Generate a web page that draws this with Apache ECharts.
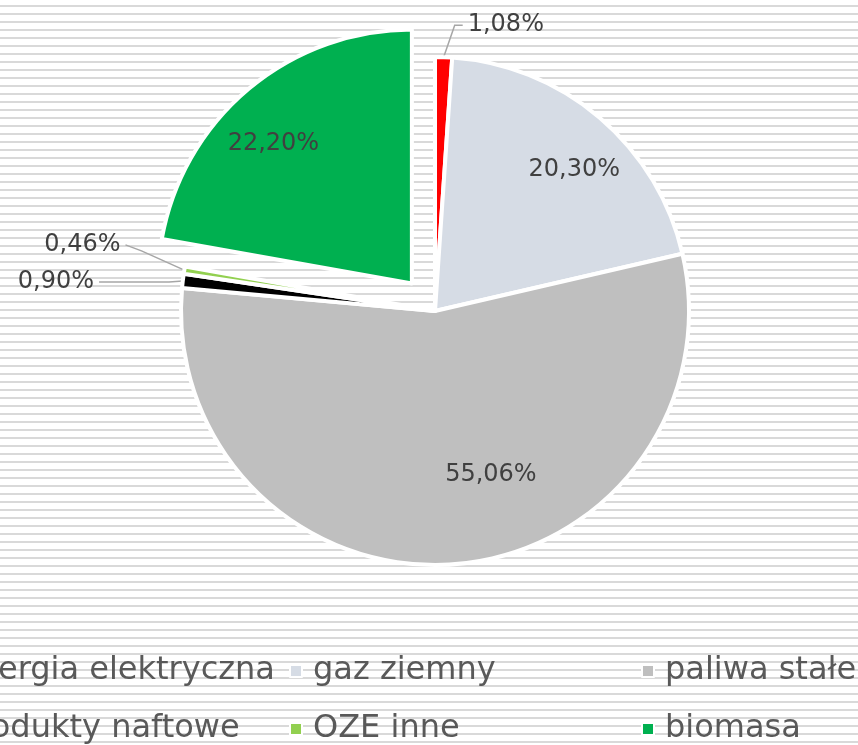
<!DOCTYPE html>
<html>
<head>
<meta charset="utf-8">
<script src="https://cdn.jsdelivr.net/npm/echarts@6/dist/echarts.min.js"></script>
<style>
  html, body { margin: 0; padding: 0; }
  body {
    width: 858px; height: 745px; overflow: hidden;
    background-color: #ffffff;
    background-image: linear-gradient(to bottom, transparent 5px, #d9d9d9 5px, #d9d9d9 7px, transparent 7px);
    background-size: 100% 8px;
    background-repeat: repeat;
  }
  #chart { width: 858px; height: 745px; }
</style>
</head>
<body>
<div id="chart"></div>
<script>
// struktura zużycia energii – wykres kołowy
const categories = ['energia elektryczna', 'gaz ziemny', 'paliwa stałe', 'produkty naftowe', 'OZE inne', 'biomasa'];
const shares = [1.08, 20.30, 55.06, 0.90, 0.46, 22.20];
const colors = ['#ff0000', '#d6dce5', '#bfbfbf', '#000000', '#92d050', '#00b050'];
const exploded = 'biomasa';

const fmt = v => v.toFixed(2).replace('.', ',') + '%';

// przesunięcia etykiet (jak w Excelu)
const labelShift = {
    'gaz ziemny': [55, -42],
    'paliwa stałe': [47, 34],
    'biomasa': [-55, -40],
    'produkty naftowe': [-9, -24],
    'OZE inne': [-6, -23]
};
// linie odniesienia dla małych wycinków
const leaderLines = {
    'energia elektryczna': { length: 32, length2: 18 },
    'produkty naftowe': { length: 8, length2: 70 },
    'OZE inne': { length: 14, length2: 44 }
};
const leaderBend = {
    'energia elektryczna': [10, 0],
    'OZE inne': [-28, 6]
};

const seriesData = categories.map((name, i) => {
    const big = shares[i] > 5;
    return {
        name: name,
        value: shares[i],
        selected: name === exploded,
        itemStyle: { color: colors[i] },
        label: big ? { position: 'inside' } : { position: 'outside', lineHeight: 36 },
        labelLine: big ? { show: false } : Object.assign({ show: true }, leaderLines[name])
    };
});

const legendBase = {
    orient: 'vertical',
    top: 655,
    padding: 0,
    itemWidth: 12,
    itemHeight: 12,
    itemGap: 26,
    icon: 'rect',
    selectedMode: false,
    textStyle: {
        color: '#595959',
        fontSize: 32,
        fontFamily: 'DejaVu Sans',
        lineHeight: 30,
        padding: [0, 0, 0, 6]
    }
};

const chart = echarts.init(document.getElementById('chart'));
const option = {
    animation: false,
    color: colors,
    legend: [
        Object.assign({}, legendBase, { left: -66, data: [categories[0], categories[3]] }),
        Object.assign({}, legendBase, { left: 289, data: [categories[1], categories[4]] }),
        Object.assign({}, legendBase, { left: 641, data: [categories[2], categories[5]] })
    ],
    series: [
        {
            type: 'pie',
            center: [435, 311],
            radius: 254,
            startAngle: 90,
            clockwise: true,
            selectedMode: 'single',
            selectedOffset: 36,
            avoidLabelOverlap: true,
            minShowLabelAngle: 0,
            emphasis: { disabled: true },
            itemStyle: { borderColor: '#ffffff', borderWidth: 4 },
            label: {
                formatter: p => fmt(p.value),
                color: '#404040',
                fontSize: 24,
                fontFamily: 'DejaVu Sans'
            },
            labelLine: {
                lineStyle: { color: '#a6a6a6', width: 1.5 }
            },
            labelLayout: function (params) {
                const name = categories[params.dataIndex];
                const s = labelShift[name] || [0, 0];
                const res = { dx: s[0], dy: s[1] };
                const pts = params.labelLinePoints;
                if (pts && leaderLines[name]) {
                    const b = leaderBend[name] || [0, 0];
                    res.labelLinePoints = [
                        [pts[0][0], pts[0][1]],
                        [pts[1][0] + s[0] + b[0], pts[1][1] + s[1] + b[1]],
                        [pts[2][0] + s[0], pts[2][1] + s[1]]
                    ];
                }
                return res;
            },
            data: seriesData
        }
    ]
};
option && chart.setOption(option);
</script>
</body>
</html>
